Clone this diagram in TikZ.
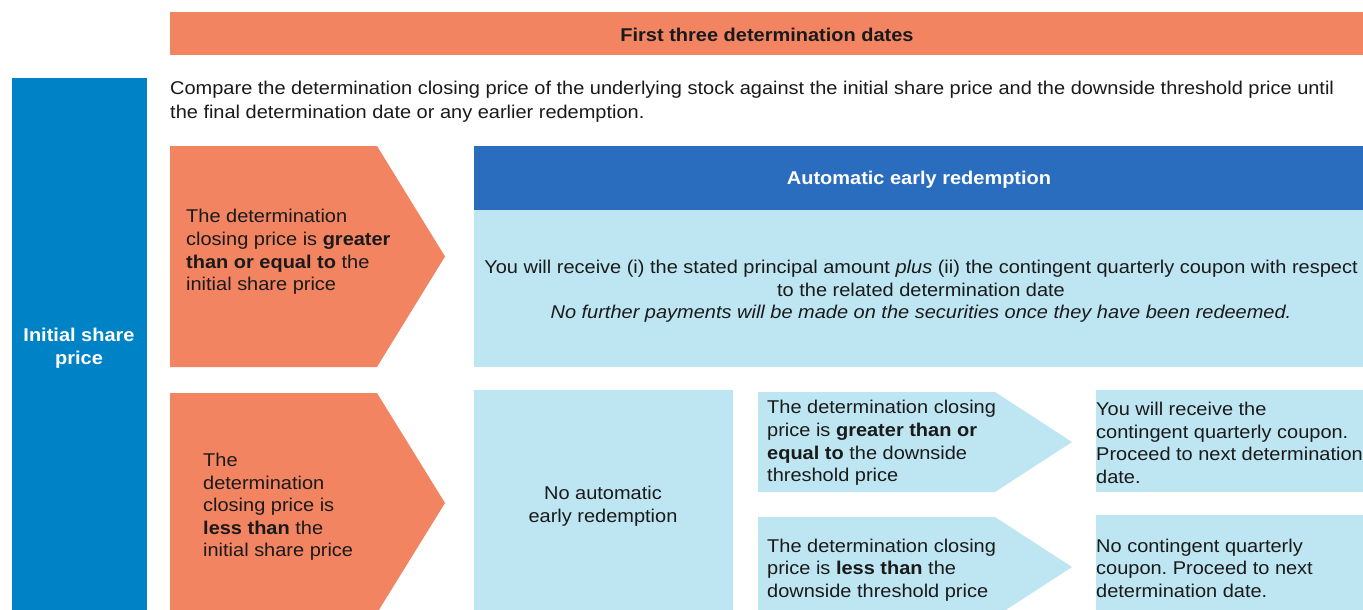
\documentclass[tikz,border=0pt]{standalone}
\usepackage{fontspec}
\setmainfont{Liberation Sans}[FakeStretch=1.08]
\frenchspacing
\definecolor{orng}{RGB}{242,132,98}
\definecolor{barblue}{RGB}{0,130,198}
\definecolor{hdrblue}{RGB}{42,108,190}
\definecolor{paleblue}{RGB}{190,230,242}
\definecolor{txt}{RGB}{26,26,26}

\begin{document}
\begin{tikzpicture}[x=1pt,y=-1pt]
\tikzstyle{every node}+=[inner sep=0pt,text=txt,font=\fontsize{18.5}{22.6}\selectfont]
\clip (0,0) rectangle (1363,610);
\fill [white] (0,0) rectangle (1363,610);
% top bar and side bar
\fill [orng] (170,12) rectangle (1363,55);
\node (title) at (767,35) {\bfseries First three determination dates};
\fill [barblue] (12,78) rectangle (147,620);
\node (initial) [align=center,text=white] at (79,348) {\bfseries Initial share\\\bfseries price};
\node (compare) [anchor=west,align=left,font=\fontsize{18.5}{24}\selectfont] at (170,101.5) {Compare the determination closing price of the underlying stock against the initial share price and the downside threshold price until\\the final determination date or any earlier redemption.};
% first row
\fill [orng] (170,146) -- (377,146) -- (445,256.5) -- (377,367) -- (170,367) -- cycle;
\node (geq) [anchor=west,align=left] at (186,252) {The determination\\closing price is \textbf{greater}\\\textbf{than or equal to} the\\initial share price};
\fill [hdrblue] (474,146) rectangle (1370,210);
\node (autohdr) [text=white] at (919,180) {\bfseries Automatic early redemption};
\fill [paleblue] (474,210) rectangle (1370,367);
\node (autotxt) [align=center] at (921,291.5) {You will receive (i) the stated principal amount \textit{plus} (ii) the contingent quarterly coupon with respect\\to the related determination date\\\textit{No further payments will be made on the securities once they have been redeemed.}};
% second row
\fill [orng] (170,393) -- (377,393) -- (445,503) -- (377,613) -- (170,613) -- cycle;
\node (less) [anchor=west,align=left] at (203,507) {The\\determination\\closing price is\\\textbf{less than} the\\initial share price};
\fill [paleblue] (474,390) rectangle (733,620);
\node (noauto) [align=center] at (603,506) {No automatic\\early redemption};
\fill [paleblue] (758,392) -- (995,392) -- (1072,442) -- (995,492) -- (758,492) -- cycle;
\node (dgeq) [anchor=west,align=left] at (767,443) {The determination closing\\price is \textbf{greater than or}\\\textbf{equal to} the downside\\threshold price};
\fill [paleblue] (758,517) -- (995,517) -- (1072,567) -- (995,617) -- (758,617) -- cycle;
\node (dless) [anchor=west,align=left] at (767,570) {The determination closing\\price is \textbf{less than} the\\downside threshold price};
\fill [paleblue] (1096,390) rectangle (1370,492);
\node (coupon) [anchor=west,align=left] at (1096,443) {You will receive the\\contingent quarterly coupon.\\Proceed to next determination\\date.};
\fill [paleblue] (1096,515) rectangle (1370,620);
\node (nocoupon) [anchor=west,align=left] at (1096,568) {No contingent quarterly\\coupon. Proceed to next\\determination date.};
\end{tikzpicture}
\end{document}
